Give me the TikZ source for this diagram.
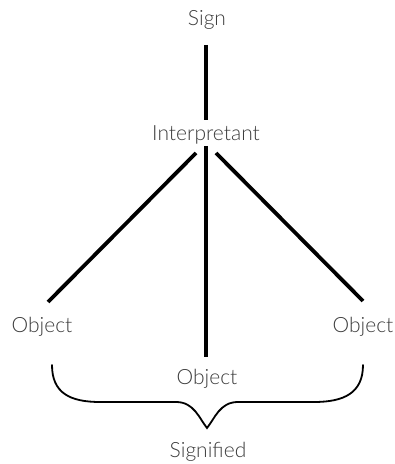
\documentclass[tikz,border=0pt]{standalone}
\usepackage{fontspec}
\setmainfont{Lato}[UprightFont=*-Light]
\usepackage{tikz}
\usetikzlibrary{calc}
\definecolor{textgray}{HTML}{3C3C3C}
\tikzset{
  term/.style={
    text=textgray,
    font=\fontsize{21}{25}\selectfont,
    inner sep=0pt
  },
  stem/.style={line width=3.8pt,draw=black},
  brace/.style={line width=1.8pt,draw=black,line cap=round}
}

\begin{document}
\begin{tikzpicture}[x=1pt,y=1pt]
    \useasboundingbox (0,0) rectangle (395,464);
    \node[term] (sign) at (207,444) {Sign};
    \node[term] (interp) at (206,329) {Interpretant};
    \node[term] (objL) at (42,137) {Object};
    \node[term] (objM) at (207,85) {Object};
    \node[term] (objR) at (363,137) {Object};
    \node[term] (signified) at (208,12) {Signified};

    \draw[stem] ($(sign)+(-1,-25)$) -- ($(interp)+(0,15)$);
    \draw[stem] ($(interp)+(0,-11)$) -- ($(objM)+(-1,22)$);
    \draw[stem] ($(interp)+(-10,-18)$) -- ($(objL)+(6,25)$);
    \draw[stem] ($(interp)+(10,-18)$) -- ($(objR)+(0,26)$);

    \draw[brace] ($(objL)+(10,-38)$) .. controls +(0,-28) and +(-30,0) .. (100,62)
      -- (176,62) .. controls +(18,0) and +(-8,10) .. ($(signified)+(-1,24)$)
      .. controls +(8,10) and +(-18,0) .. (238,62)
      -- (314,62) .. controls +(30,0) and +(0,-28) .. ($(objR)+(0,-38)$);
  \end{tikzpicture}
\end{document}
